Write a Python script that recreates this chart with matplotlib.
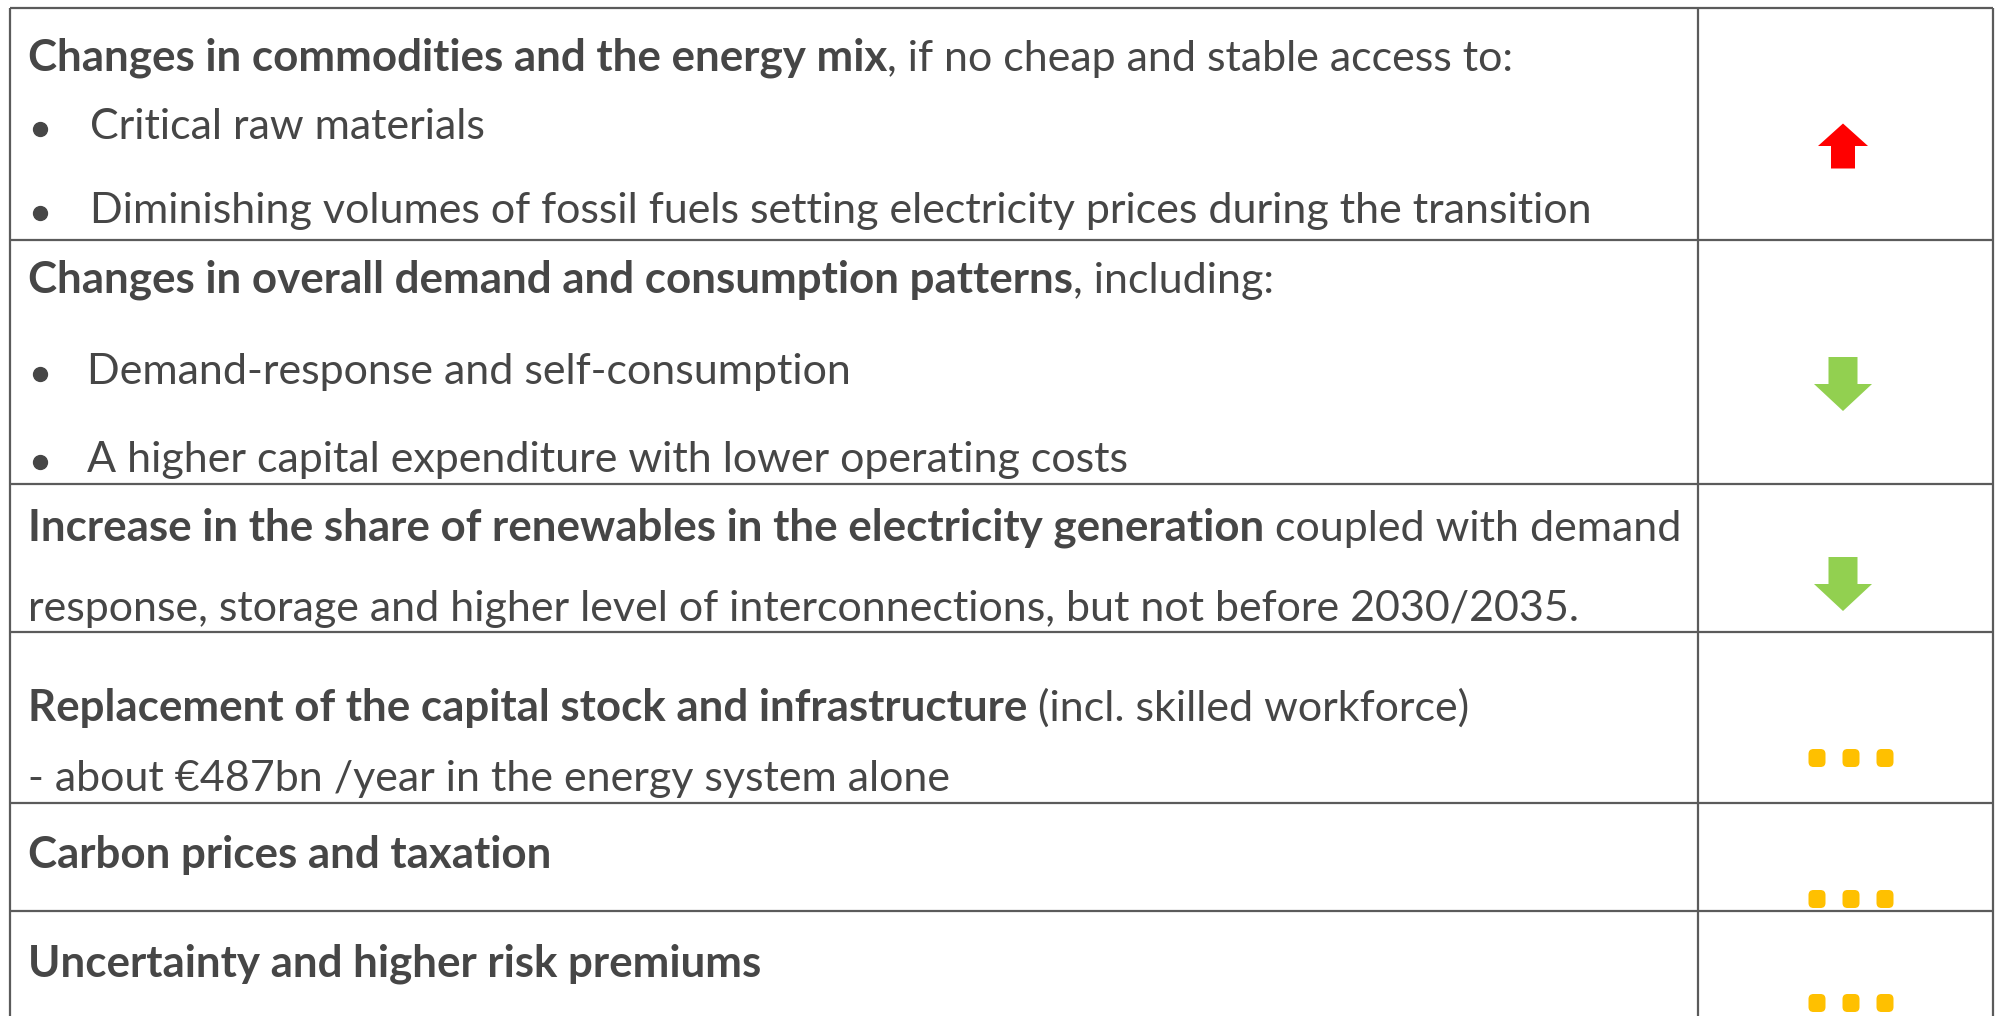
import matplotlib
matplotlib.use("Agg")
import matplotlib.pyplot as plt
from matplotlib.patches import Polygon, FancyBboxPatch

# conteudo da tabela
titulos = [
    "Changes in commodities and the energy mix",
    "Changes in overall demand and consumption patterns",
    "Increase in the share of renewables in the electricity generation",
    "Replacement of the capital stock and infrastructure",
    "Carbon prices and taxation",
    "Uncertainty and higher risk premiums",
]
complementos = [
    ", if no cheap and stable access to:",
    ", including:",
    " coupled with demand",
    " (incl. skilled workforce)",
    "",
    "",
]
marcadores = [
    ["Critical raw materials",
     "Diminishing volumes of fossil fuels setting electricity prices during the transition"],
    ["Demand-response and self-consumption",
     "A higher capital expenditure with lower operating costs"],
    [],
    [],
    [],
    [],
]
continuacao = [
    [],
    [],
    ["response, storage and higher level of interconnections, but not before 2030/2035."],
    ["- about €487bn /year in the energy system alone"],
    [],
    [],
]
icones = ["up", "down", "down", "dots", "dots", "dots"]

# layout (pixels)
W, H = 1995, 1016
limites_linhas = [8, 240, 484, 632, 803, 911]
col_x = [10, 1698, 1993]
base_y = [[70, 139, 223], [293, 384, 472], [540, 621], [721, 791], [868], [976]]
icone_y = [146, 384, 584, 758, 899, 1003]
icone_x = 1851
x_texto = 28
x_bullet = 40
x_bullet_txt = [90, 87, 0, 0, 0, 0]

COR_TEXTO = "#464646"
COR_LINHA = "#5b5b5b"
FONTE = "Lato"

fig = plt.figure(figsize=(W / 100, H / 100), dpi=100)
ax = fig.add_axes([0, 0, 1, 1])
ax.set_xlim(0, W)
ax.set_ylim(H, 0)
ax.axis("off")
renderer = fig.canvas.get_renderer()


def largura(txt, size, weight="normal"):
    t = ax.text(0, 0, txt, fontsize=size, family=FONTE, weight=weight)
    w = t.get_window_extent(renderer=renderer).width
    t.remove()
    return w


# ajusta o tamanho da fonte pela linha mais longa (1511 px no original)
tam = 20 * 1511 / largura(marcadores[0][1], 20)
tam_negrito = tam * 1.02

# grade
lw = 1.6
for y in limites_linhas:
    ax.plot([col_x[0], col_x[2]], [y, y], color=COR_LINHA, lw=lw, solid_capstyle="butt")
for x in col_x:
    ax.plot([x, x], [limites_linhas[0], H + 5], color=COR_LINHA, lw=lw, solid_capstyle="butt")

for i, titulo in enumerate(titulos):
    ys = base_y[i]
    t = ax.text(x_texto, ys[0], titulo, fontsize=tam_negrito, family=FONTE, weight="bold",
                color=COR_TEXTO, va="baseline", ha="left")
    if complementos[i]:
        ax.annotate(complementos[i], xy=(1, 0), xycoords=t, fontsize=tam, family=FONTE,
                    color=COR_TEXTO, va="bottom", ha="left")
    k = 1
    for item in marcadores[i]:
        ax.plot(x_bullet, ys[k] - 10, "o", ms=10, color=COR_TEXTO)
        ax.text(x_bullet_txt[i], ys[k], item, fontsize=tam, family=FONTE,
                color=COR_TEXTO, va="baseline", ha="left")
        k += 1
    for item in continuacao[i]:
        ax.text(x_texto, ys[k], item, fontsize=tam, family=FONTE,
                color=COR_TEXTO, va="baseline", ha="left")
        k += 1


def seta(cx, cy, para_cima, cor, larg, alt, haste):
    # seta em bloco centrada em (cx, cy)
    s = -1 if para_cima else 1
    ponta = cy + s * alt / 2
    base = cy - s * alt / 2
    asa = ponta - s * alt * 0.5
    pts = [(cx - haste, base), (cx + haste, base), (cx + haste, asa), (cx + larg, asa),
           (cx, ponta), (cx - larg, asa), (cx - haste, asa)]
    ax.add_patch(Polygon(pts, closed=True, color=cor, lw=0))


for i, ic in enumerate(icones):
    cy = icone_y[i]
    if ic == "up":
        seta(icone_x - 8, cy, True, "#FF0000", 25, 45, 12)
    elif ic == "down":
        seta(icone_x - 8, cy, False, "#92D050", 29, 54, 14.5)
    else:
        for dx in (-34, 0, 34):
            ax.add_patch(FancyBboxPatch((icone_x + dx - 8.5, cy - 9), 17, 18,
                                        boxstyle="round,pad=0,rounding_size=5",
                                        color="#FFC000", lw=0))

fig.savefig("out.png", dpi=100)
